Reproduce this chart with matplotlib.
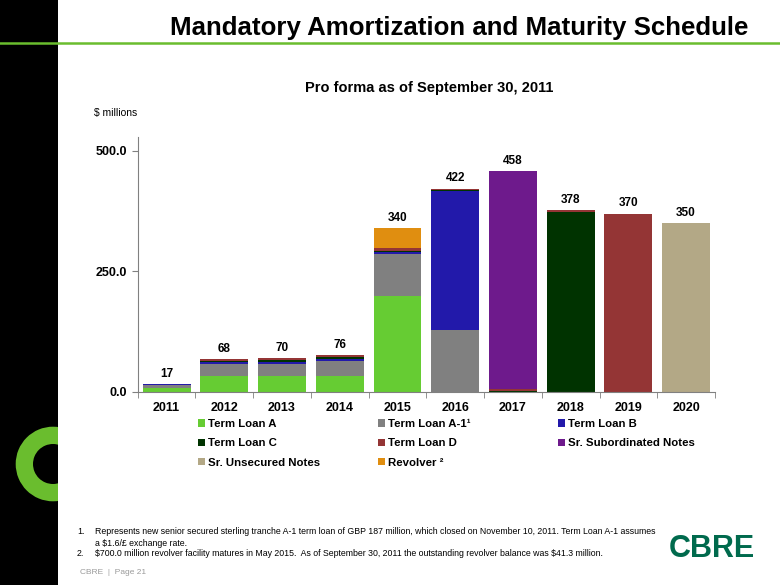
import matplotlib
matplotlib.use("Agg")
import matplotlib.pyplot as plt
import matplotlib.patches as mpatches
import matplotlib.lines as mlines
import numpy as np

plt.rcParams['font.family'] = ['Liberation Sans', 'DejaVu Sans']

# ---- data ($ millions) ----
years = ["2011", "2012", "2013", "2014", "2015", "2016", "2017", "2018", "2019", "2020"]

term_loan_a = [8, 34, 34, 34, 200, 0, 0, 0, 0, 0]
term_loan_a1 = [6, 24, 24, 30, 87, 129, 0, 0, 0, 0]
term_loan_b = [2, 4, 4, 4, 3, 288, 0, 0, 0, 0]
term_loan_c = [0.5, 3, 5, 5, 3, 3, 3, 374, 0, 0]
term_loan_d = [0.5, 3, 3, 3, 5.7, 2, 3, 4, 370, 0]
sr_sub_notes = [0, 0, 0, 0, 0, 0, 452, 0, 0, 0]
sr_unsec_notes = [0, 0, 0, 0, 0, 0, 0, 0, 0, 350]
revolver = [0, 0, 0, 0, 41.3, 0, 0, 0, 0, 0]

series_names = ["Term Loan A", "Term Loan A-1\u00b9", "Term Loan B", "Term Loan C",
                "Term Loan D", "Sr. Subordinated Notes", "Sr. Unsecured Notes", "Revolver \u00b2"]
series_colors = ["#66CC33", "#808080", "#2219AA", "#003300",
                 "#943535", "#6E1A8C", "#B3A886", "#E08E10"]
series_values = [term_loan_a, term_loan_a1, term_loan_b, term_loan_c,
                 term_loan_d, sr_sub_notes, sr_unsec_notes, revolver]

footnote_1a = "Represents new senior secured sterling tranche A-1 term loan of GBP 187 million, which closed on November 10, 2011. Term Loan A-1 assumes"
footnote_1b = "a \\$1.6/\u00a3 exchange rate."
footnote_2 = "\\$700.0 million revolver facility matures in May 2015.  As of September 30, 2011 the outstanding revolver balance was \\$41.3 million."

W, H = 780, 585
fig = plt.figure(figsize=(7.8, 5.85), dpi=100)

# ---- slide decoration ----
black_bar = mpatches.Rectangle((0, 0), 58 / W, 1, transform=fig.transFigure,
                               facecolor="black", edgecolor="none", zorder=0)
fig.patches.append(black_bar)
ring = mpatches.Wedge((0.53, (H - 464) / 100), 0.373, 0, 360, width=0.173,
                      transform=fig.dpi_scale_trans, facecolor="#6ABD2E",
                      edgecolor="none", zorder=1)
fig.patches.append(ring)
ring.set_clip_path(black_bar)
fig.lines.append(mlines.Line2D([0, 1], [1 - 43 / H, 1 - 43 / H], transform=fig.transFigure,
                               color="#6ABD2E", linewidth=1.8, zorder=2))

fig.text(170 / W, 1 - 35 / H, "Mandatory Amortization and Maturity Schedule",
         fontweight="bold", fontsize=18.6, ha="left", va="baseline")
fig.text(429 / W, 1 - 88 / H, "Pro forma as of September 30, 2011",
         fontsize=10.5, fontweight="bold", ha="center", va="center")
fig.text(116 / W, 1 - 113 / H, "\\$ millions", fontsize=7.5, ha="center", va="center")

# ---- chart ----
ax = fig.add_axes([137.7 / W, (H - 392) / H, (715 - 137.7) / W, (392 - 137) / H])
x = np.arange(len(years))
bottom = np.zeros(len(years))
for name, color, vals in zip(series_names, series_colors, series_values):
    vals = np.array(vals, dtype=float)
    ax.bar(x, vals, 0.83, bottom=bottom, color=color, label=name,
           edgecolor="none")
    bottom += vals

for xi, tot in zip(x, bottom):
    ax.annotate(f"{tot:.0f}", (xi, tot), xytext=(0, 3), textcoords="offset points",
                ha="center", va="bottom", fontsize=8.5, fontweight="bold")

ax.set_xlim(-0.5, len(years) - 0.5)
ax.set_ylim(0, 529)
ax.set_yticks([0, 250, 500])
ax.set_yticklabels(["0.0", "250.0", "500.0"], fontsize=9, fontweight="bold")
ax.set_xticks(x)
ax.set_xticklabels(years, fontsize=9, fontweight="bold")
ax.set_xticks(np.arange(-0.5, len(years)), minor=True)
ax.tick_params(axis="x", which="major", length=0, pad=7.5)
ax.tick_params(axis="x", which="minor", length=4, color="#808080", direction="out")
ax.tick_params(axis="y", length=4, color="#808080", direction="out")
for side in ["top", "right"]:
    ax.spines[side].set_visible(False)
for side in ["left", "bottom"]:
    ax.spines[side].set_color("#808080")

# ---- legend: three columns, row-wise order ----
handles, labels = ax.get_legend_handles_labels()
col_x = [198, 378, 558]
for c in range(3):
    idx = list(range(c, len(handles), 3))
    leg = fig.legend([handles[i] for i in idx], [labels[i] for i in idx],
                     loc="upper left", bbox_to_anchor=(col_x[c] / W, 1 - 419 / H),
                     frameon=False, fontsize=8.2, handlelength=0.6, handleheight=0.6,
                     handletextpad=0.3, labelspacing=0.82, borderaxespad=0,
                     borderpad=0)
    for t in leg.get_texts():
        t.set_fontweight("bold")

# ---- footnotes and footer ----
fig.text(77 / W, 1 - 532 / H, "1.", fontsize=6.3, va="center")
fig.text(95 / W, 1 - 532 / H, footnote_1a, fontsize=6.3, va="center")
fig.text(95 / W, 1 - 543 / H, footnote_1b, fontsize=6.3, va="center")
fig.text(77 / W, 1 - 554 / H, "2.", fontsize=6.3, va="center")
fig.text(95 / W, 1 - 554 / H, footnote_2, fontsize=6.3, va="center")
fig.text(80 / W, 1 - 573 / H, "CBRE  |  Page 21", fontsize=6,
         color="#9A9A9A", va="center")
fig.text(712 / W, 1 - 549 / H, "CBRE", fontsize=22, fontweight="bold",
         color="#006A4D", ha="center", va="center")

fig.savefig("out.png", dpi=100)
